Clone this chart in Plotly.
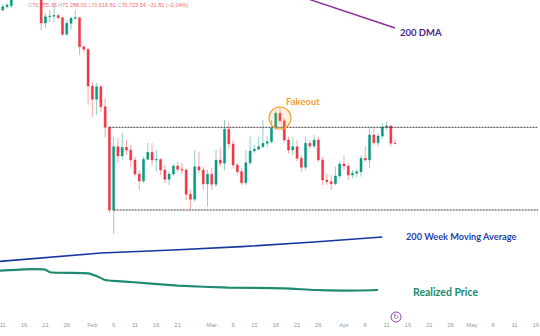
import pandas as pd
import plotly.graph_objects as go

# ---------------- data ----------------
start_date = "2026-01-11"
opens = [89410, 89880, 90000, 93600, 94800, 94200, 94500, 94300, 93500, 92300,
         87590, 88480, 88550, 88640, 88340, 86010, 87550, 88250, 88340, 84270,
         83910, 78770, 76910, 78670, 75880, 72990, 61410, 70280, 68970, 70190,
         69810, 68410, 66450, 65470, 68510, 69490, 68410, 68480, 67010, 65710,
         66450, 67570, 67110, 67000, 63610, 62910, 67470, 67010, 65050, 66410,
         65010, 68410, 67950, 72710, 70650, 67710, 66780, 65230, 68030, 69670,
         69910, 70280, 70750, 70980, 72850, 74950, 73920, 71210, 69810, 70280,
         68650, 67390, 70750, 70370, 71210, 68410, 65610, 65380, 65100, 66170,
         67850, 67570, 66310, 66550, 66780, 68650, 68410, 71910, 70840, 71770,
         72990, 73170, 70755.35]
highs = [90250, 90400, 94500, 95800, 95500, 95200, 95000, 94800, 93800, 92600,
         88990, 89410, 90110, 88900, 88480, 88010, 88480, 89410, 88500, 84370,
         84050, 79370, 79190, 79000, 77090, 73070, 71680, 71490, 72190, 71210,
         70510, 68880, 67010, 68880, 70790, 70790, 69810, 68690, 67710, 66780,
         67850, 68180, 68000, 67290, 64210, 69810, 69570, 67480, 67010, 67290,
         69810, 70090, 74010, 73780, 71210, 68000, 67290, 69810, 71680, 70510,
         71680, 74010, 71680, 74010, 75410, 75970, 74290, 71680, 71680, 71210,
         69110, 71680, 71210, 71910, 71680, 68870, 66550, 66310, 67480, 68180,
         69110, 67950, 67010, 67150, 69110, 70280, 72850, 72850, 72190, 73550,
         73780, 73310, 71288.00]
lows = [89270, 89600, 89700, 93000, 93500, 93700, 93900, 92800, 91600, 86610,
        86890, 87730, 87730, 88100, 85770, 85770, 86610, 88010, 83110, 83530,
        76110, 74470, 74710, 75100, 71630, 60990, 58050, 67990, 68410, 69110,
        67480, 66080, 64210, 65190, 68410, 67710, 66780, 66310, 65190, 64910,
        66170, 66780, 66500, 62810, 61410, 62570, 66550, 64210, 61870, 64210,
        64670, 67480, 67010, 70050, 67250, 66310, 64910, 64910, 67710, 69390,
        69810, 70090, 70280, 70750, 72610, 73550, 70970, 69350, 69110, 68180,
        66780, 67010, 70050, 70050, 68180, 64910, 64910, 64210, 64910, 65850,
        67010, 65610, 65890, 66030, 66080, 68180, 67250, 70510, 70280, 71450,
        72610, 70280, 70616.81]
closes = [89880, 90100, 93600, 94800, 94200, 94500, 94300, 93500, 92300, 87590,
          88480, 88550, 88640, 88340, 86010, 87550, 88250, 88340, 84270, 83910,
          78770, 76910, 78670, 75880, 72990, 61410, 70280, 68970, 70190, 69810,
          68410, 66450, 65470, 68510, 69490, 68410, 68480, 67010, 65710, 66450,
          67570, 67110, 67000, 63610, 62910, 67470, 67010, 65050, 66410, 65010,
          68410, 67950, 72710, 70650, 67710, 66780, 65230, 68030, 69670, 69910,
          70280, 70750, 70980, 72850, 74950, 73920, 71210, 69810, 70280, 68650,
          67390, 70750, 70370, 71210, 68410, 65610, 65380, 65100, 66170, 67850,
          67570, 66310, 66550, 66780, 68650, 68410, 71910, 70840, 71770, 72990,
          73170, 70755.35, 70723.54]

dma200_dates = ["2026-03-18", "2026-03-25", "2026-04-01", "2026-04-07", "2026-04-13"]
dma200_values = [92070, 90670, 89270, 88080, 86890]

wma200_dates = ["2026-01-10", "2026-01-25", "2026-02-03", "2026-02-20", "2026-03-08",
                "2026-03-25", "2026-04-10"]
wma200_values = [54200, 54970, 55390, 55810, 56280, 56930, 57630]

realized_dates = ["2026-01-10", "2026-01-16", "2026-01-21", "2026-01-22", "2026-01-31",
                  "2026-02-02", "2026-02-04", "2026-02-10", "2026-02-21", "2026-03-05",
                  "2026-03-18", "2026-03-25", "2026-04-01", "2026-04-09"]
realized_values = [52900, 53110, 53060, 52690, 52550, 52170, 51610, 51330, 50820,
                   50540, 50450, 50210, 50120, 50210]

resistance_level = 72990
support_level = 61410
resistance_start = "2026-02-05"
support_start = "2026-02-06"
fakeout_date = "2026-03-17"
fakeout_price = 74290

tick_dates = ["2026-01-11", "2026-01-16", "2026-01-21", "2026-01-26", "2026-02-01",
              "2026-02-06", "2026-02-11", "2026-02-16", "2026-02-21", "2026-03-01",
              "2026-03-06", "2026-03-11", "2026-03-16", "2026-03-21", "2026-03-26",
              "2026-04-01", "2026-04-06", "2026-04-11", "2026-04-16", "2026-04-21",
              "2026-04-26", "2026-05-01", "2026-05-06", "2026-05-11", "2026-05-16"]
tick_labels = ["11", "16", "21", "26", "Feb", "6", "11", "16", "21", "Mar", "6", "11",
               "16", "21", "26", "Apr", "6", "11", "16", "21", "26", "May", "6", "11", "16"]

header = ("<span style='color:#9aa0a6'>O</span>70,755.35 "
          "<span style='color:#9aa0a6'>H</span>71,288.00 "
          "<span style='color:#9aa0a6'>L</span>70,616.81 "
          "<span style='color:#9aa0a6'>C</span>70,723.54 −31.81 (−0.04%)")

# ---------------- figure ----------------
dates = pd.date_range(start_date, periods=len(opens), freq="D")

W, H = 540, 336
MB = 18
PH = H - MB

def px(x):
    return x / W

def py(y):
    return 1 - y / PH

fig = go.Figure()

fig.add_trace(go.Scatter(x=wma200_dates, y=wma200_values, mode="lines",
                         line=dict(color="#1537a0", width=1.6), hoverinfo="skip"))
fig.add_trace(go.Scatter(x=realized_dates, y=realized_values, mode="lines",
                         line=dict(color="#1f8a70", width=2.2, shape="spline", smoothing=0.4),
                         hoverinfo="skip"))
fig.add_trace(go.Scatter(x=dma200_dates, y=dma200_values, mode="lines",
                         line=dict(color="#8e2a9e", width=1.4), hoverinfo="skip"))

fig.add_trace(go.Candlestick(
    x=dates, open=opens, high=highs, low=lows, close=closes,
    increasing=dict(fillcolor="#089981", line=dict(color="rgba(8,153,129,0.45)", width=1)),
    decreasing=dict(fillcolor="#f23645", line=dict(color="rgba(242,54,69,0.45)", width=1)),
    whiskerwidth=0, hoverinfo="skip"))

# level lines
fig.add_shape(type="line", xref="x", yref="y", x0=resistance_start, x1="2026-05-20",
              y0=resistance_level, y1=resistance_level,
              line=dict(color="#3a3a3a", width=1, dash="2px,1px"))
fig.add_shape(type="line", xref="x", yref="y", x0=support_start, x1="2026-05-20",
              y0=support_level, y1=support_level,
              line=dict(color="#3a3a3a", width=1, dash="2px,1px"))

# fakeout circle
fig.add_shape(type="circle", xref="x", yref="y", xsizemode="pixel", ysizemode="pixel",
              xanchor=fakeout_date, yanchor=fakeout_price,
              x0=-11, x1=11, y0=-11, y1=11,
              line=dict(color="#f2a53a", width=1.2), fillcolor="rgba(245,170,60,0.18)",
              layer="above")

lab_font = "Lato"
anns = [
    dict(x=px(304), y=py(101), text="<b>Fakeout</b>", color="#f2a12e", size=9.5),
    dict(x=px(423), y=py(32.5), text="<b>200 DMA</b>", color="#4b2384", size=9.5),
    dict(x=px(463), y=py(237), text="<b>200 Week Moving Average</b>", color="#1f3fae", size=9.2),
    dict(x=px(447), y=py(292), text="<b>Realized Price</b>", color="#1d8a6f", size=10.5),
]
for a in anns:
    fig.add_annotation(x=a["x"], y=a["y"], xref="paper", yref="paper", text=a["text"],
                       showarrow=False, xanchor="center", yanchor="middle",
                       font=dict(family=lab_font, size=a["size"], color=a["color"]))

fig.add_annotation(x=px(26), y=py(5), xref="paper", yref="paper", text=header,
                   showarrow=False, xanchor="left", yanchor="middle",
                   font=dict(family="Liberation Sans", size=5.5, color="rgba(242,54,69,0.8)"))

# realtime icon
fig.add_shape(type="circle", xref="paper", yref="paper", xsizemode="pixel", ysizemode="pixel",
              xanchor=px(397.5), yanchor=py(317), x0=-5, x1=5, y0=-5, y1=5,
              line=dict(color="#8e3fb0", width=1), fillcolor="rgba(255,255,255,0)")
fig.add_annotation(x=px(397.5), y=py(317), xref="paper", yref="paper", text="↻",
                   showarrow=False, xanchor="center", yanchor="middle",
                   font=dict(family="DejaVu Sans", size=7, color="#8e3fb0"))

fig.update_layout(
    width=W, height=H,
    margin=dict(l=0, r=0, t=0, b=MB),
    paper_bgcolor="white", plot_bgcolor="white",
    showlegend=False,
    xaxis=dict(type="date", range=["2026-01-10 08:18", "2026-05-16 12:00"],
               rangeslider=dict(visible=False), showgrid=False, zeroline=False,
               showline=False, ticks="", tickvals=tick_dates, ticktext=tick_labels,
               tickfont=dict(family="Liberation Sans", size=6, color="#9a9a9a"),
               ticklabelstandoff=2, ticklabeloverflow="allow"),
    yaxis=dict(range=[46293, 90813], visible=False, showgrid=False, zeroline=False),
)

fig.write_html("out.html")
